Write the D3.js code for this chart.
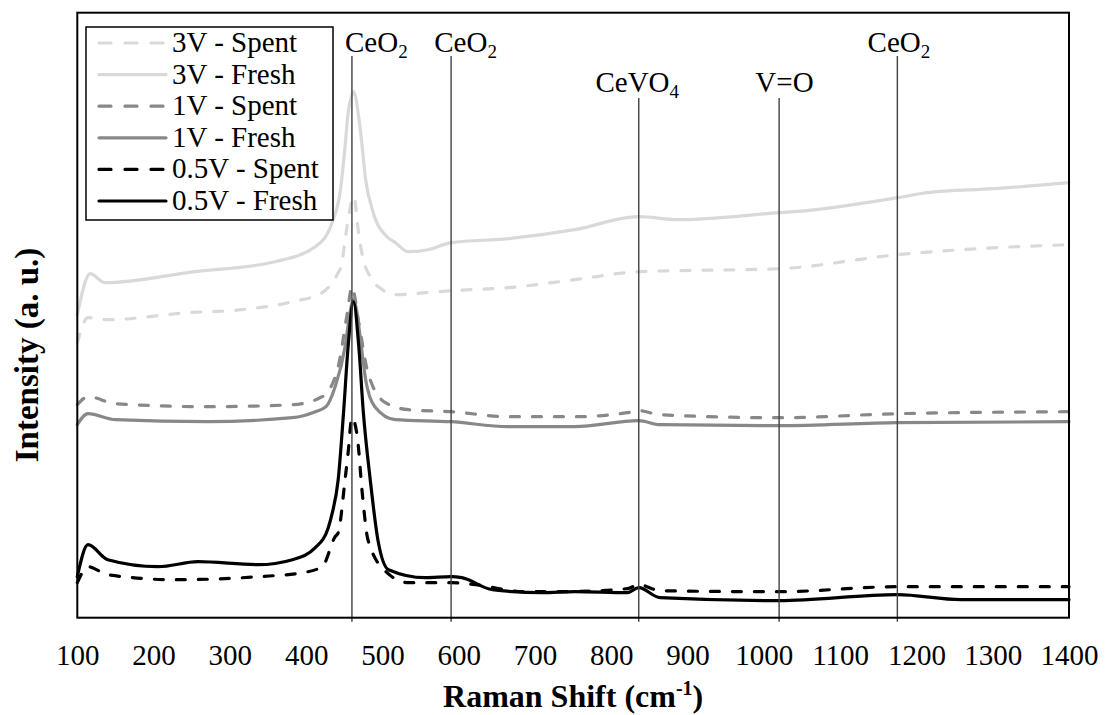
<!DOCTYPE html>
<html>
<head>
<meta charset="utf-8">
<script src="https://cdn.jsdelivr.net/npm/d3@7"></script>
<style>
  body { margin: 0; background: #fff; }
</style>
</head>
<body>
<svg id="chart" width="1105" height="715"></svg>
<script>
// tick labels on the x axis
const xTicks = [100, 200, 300, 400, 500, 600, 700, 800, 900, 1000, 1100, 1200, 1300, 1400]

// spectra (Raman shift, intensity a.u.)
const shift3VSpent = [100, 114, 140, 245, 316, 382, 421, 434, 442, 447, 451, 455, 460, 463, 467, 474, 484, 500, 517, 556, 590, 665, 752, 836, 1020, 1175, 1258, 1400]
const int3VSpent   = [55.0, 60.0, 59.6, 61.0, 61.6, 63.2, 65.0, 67.0, 69.0, 71.0, 75.6, 79.6, 83.5, 84.2, 79.0, 72.2, 68.2, 65.6, 64.6, 65.0, 65.4, 66.0, 67.6, 69.2, 69.8, 72.6, 73.6, 74.6]

const shift3VFresh = [100, 117, 136, 254, 359, 412, 434, 445, 451, 455, 459, 462, 471, 478, 488, 506, 517, 534, 560, 590, 665, 752, 836, 887, 1020, 1039, 1175, 1214, 1301, 1400]
const int3VFresh   = [60.6, 68.8, 67.0, 69.2, 71.2, 74.2, 79.0, 85.6, 94.2, 101.0, 104.0, 105.2, 97.6, 87.6, 81.0, 76.2, 75.0, 73.2, 73.6, 75.0, 75.8, 77.6, 80.2, 79.6, 81.0, 81.2, 84.0, 85.0, 85.8, 87.0]

const shift1VSpent = [100, 114, 150, 271, 382, 421, 441, 454, 460, 469, 481, 504, 534, 590, 665, 752, 821, 836, 864, 1020, 1175, 1400]
const int1VSpent   = [42.6, 44.2, 42.8, 42.2, 42.6, 44.2, 49.6, 61.0, 66.2, 59.0, 49.0, 43.0, 41.6, 41.2, 40.2, 40.2, 41.0, 41.4, 40.6, 40.0, 40.8, 41.2]

const shift1VFresh = [100, 114, 150, 271, 382, 412, 426, 438, 451, 456, 462, 474, 478, 490, 517, 590, 665, 752, 836, 864, 1020, 1175, 1400]
const int1VFresh   = [38.6, 40.8, 39.6, 39.2, 40.0, 41.2, 42.2, 46.2, 54.2, 59.5, 63.6, 52.2, 47.6, 42.2, 39.6, 39.2, 38.2, 38.2, 39.4, 38.6, 38.4, 39.0, 39.2]

const shift05Spent = [100, 114, 140, 228, 337, 395, 421, 438, 442, 451, 455, 460, 467, 474, 481, 506, 534, 590, 622, 687, 733, 821, 836, 864, 1020, 1175, 1400]
const int05Spent   = [7.0, 10.2, 8.6, 7.6, 8.2, 9.0, 10.2, 16.2, 17.0, 27.6, 33.0, 40.0, 36.2, 24.2, 15.6, 9.0, 7.0, 7.0, 6.6, 5.2, 5.2, 5.8, 6.6, 5.4, 5.2, 6.2, 6.2]

const shift05Fresh = [100, 114, 140, 206, 258, 337, 382, 412, 429, 434, 442, 449, 455, 462, 469, 475, 484, 494, 508, 556, 590, 604, 644, 710, 752, 821, 836, 864, 1020, 1175, 1258, 1400]
const int05Fresh   = [8.2, 14.6, 11.6, 10.2, 11.2, 10.6, 11.6, 14.0, 18.0, 20.8, 27.6, 41.0, 54.2, 63.2, 54.2, 41.0, 27.6, 15.6, 9.6, 8.0, 8.2, 8.0, 5.6, 5.0, 5.2, 5.0, 6.0, 4.0, 3.4, 4.6, 3.6, 3.6]

const seriesNames = ["3V - Spent", "3V - Fresh", "1V - Spent", "1V - Fresh", "0.5V - Spent", "0.5V - Fresh"]
const seriesShift = [shift3VSpent, shift3VFresh, shift1VSpent, shift1VFresh, shift05Spent, shift05Fresh]
const seriesInt   = [int3VSpent, int3VFresh, int1VSpent, int1VFresh, int05Spent, int05Fresh]

// assigned bands
const bandShift = [460, 590, 836, 1020, 1175]
const bandName  = ["CeO", "CeO", "CeVO", "V=O", "CeO"]
const bandSub   = ["2", "2", "4", "", "2"]
const bandLabelAt = [492, 609, 834, 1027, 1177]
const bandRow   = [0, 0, 1, 1, 0]

// styles
const colors = ["#d9d9d9", "#d9d9d9", "#888888", "#888888", "#000000", "#000000"]
const dashed = [true, false, true, false, true, false]
const serif = "'Liberation Serif', 'DejaVu Serif', serif"

const plotL = 77.3, plotR = 1069, plotT = 12.7, plotB = 617.7

let svg = d3.select("#chart")

let x = d3.scaleLinear().domain([100, 1400]).range([plotL, plotR])
let y = d3.scaleLinear().domain([0, 121]).range([plotB, plotT])

let line = d3.line()
    .x(d => x(d[0]))
    .y(d => y(d[1]))
    .curve(d3.curveMonotoneX)

seriesNames.forEach((name, i) => {
    let pts = seriesShift[i].map((s, j) => [s, seriesInt[i][j]])
    svg.append("path")
       .datum(pts)
       .attr("d", line)
       .attr("fill", "none")
       .attr("stroke", colors[i])
       .attr("stroke-width", 3.2)
       .attr("stroke-linecap", "round")
       .attr("stroke-linejoin", "round")
       .attr("stroke-dasharray", dashed[i] ? "9,13" : null)
})

// band marker lines and labels
let labelBase = [52, 92]
let lineTop = [56, 98]
bandShift.forEach((b, i) => {
    svg.append("line")
       .attr("x1", x(b)).attr("x2", x(b))
       .attr("y1", lineTop[bandRow[i]]).attr("y2", plotB + 4)
       .attr("stroke", "#404040")
       .attr("stroke-width", 1.4)
    let t = svg.append("text")
       .attr("x", x(bandLabelAt[i]))
       .attr("y", labelBase[bandRow[i]])
       .attr("text-anchor", "middle")
       .style("font-family", serif)
       .style("font-size", "29px")
    t.append("tspan").text(bandName[i])
    if (bandSub[i] != "")
        t.append("tspan").attr("dy", 6).style("font-size", "19px").text(bandSub[i])
})

// frame
svg.append("rect")
   .attr("x", plotL).attr("y", plotT)
   .attr("width", plotR - plotL).attr("height", plotB - plotT)
   .attr("fill", "none")
   .attr("stroke", "#000")
   .attr("stroke-width", 2)

// x axis labels
let xAxis = svg.append("g")
   .attr("transform", "translate(0," + plotB + ")")
   .call(d3.axisBottom(x).tickValues(xTicks).tickSize(0).tickPadding(27).tickFormat(d3.format("d")))
xAxis.select(".domain").remove()
xAxis.selectAll("text")
     .style("font-family", serif)
     .style("font-size", "29px")
     .attr("fill", "#000")

// titles
let xt = svg.append("text")
   .attr("x", (plotL + plotR) / 2)
   .attr("y", 707)
   .attr("text-anchor", "middle")
   .style("font-family", serif)
   .style("font-size", "32px")
   .style("font-weight", "bold")
xt.append("tspan").text("Raman Shift (cm")
xt.append("tspan").attr("dy", -12).style("font-size", "20px").text("-1")
xt.append("tspan").attr("dy", 12).text(")")

svg.append("text")
   .attr("transform", "translate(38,355) rotate(-90)")
   .attr("text-anchor", "middle")
   .style("font-family", serif)
   .style("font-size", "33px")
   .style("font-weight", "bold")
   .text("Intensity (a. u.)")

// legend
let lg = svg.append("g")
lg.append("rect")
  .attr("x", 86).attr("y", 27)
  .attr("width", 247).attr("height", 193)
  .attr("fill", "#fff")
  .attr("stroke", "#000")
  .attr("stroke-width", 1.5)
seriesNames.forEach((name, i) => {
    let by = 52 + i * 31.6
    lg.append("line")
      .attr("x1", 99).attr("x2", 166)
      .attr("y1", by - 9).attr("y2", by - 9)
      .attr("stroke", colors[i])
      .attr("stroke-width", 3.2)
      .attr("stroke-linecap", "round")
      .attr("stroke-dasharray", dashed[i] ? "12,14" : null)
    lg.append("text")
      .attr("x", 172).attr("y", by)
      .style("font-family", serif)
      .style("font-size", "29px")
      .text(name)
})
</script>
</body>
</html>
